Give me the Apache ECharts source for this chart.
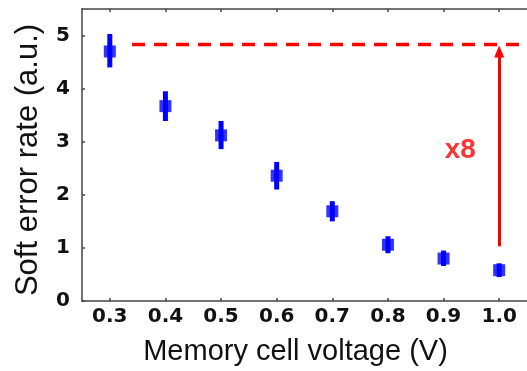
<!DOCTYPE html>
<html>
<head>
<meta charset="utf-8">
<script src="https://cdn.jsdelivr.net/npm/echarts@6/dist/echarts.min.js"></script>
<style>html,body{margin:0;padding:0;background:#fff;}#c{width:527px;height:371px;}</style>
</head>
<body>
<div id="c"></div>
<script>
// Data
const voltages = [0.3, 0.4, 0.5, 0.6, 0.7, 0.8, 0.9, 1.0];
const serMean  = [4.70, 3.67, 3.12, 2.36, 1.69, 1.06, 0.80, 0.58];
const serLow   = [4.40, 3.39, 2.86, 2.10, 1.50, 0.90, 0.66, 0.45];
const serHigh  = [5.03, 3.95, 3.39, 2.62, 1.88, 1.22, 0.95, 0.71];
const xTicks = [0.3, 0.4, 0.5, 0.6, 0.7, 0.8, 0.9, 1.0];
const yTicks = [0, 1, 2, 3, 4, 5];
const refLevel = 4.83;        // dashed reference line level
const refStartX = 0.34;       // where dashed line starts
const arrowX = 1.0;
const arrowFrom = 1.03;
const arrowTo = 4.70;
const ratioText = 'x8';
const ratioPos = [0.93, 2.83];

const chart = echarts.init(document.getElementById('c'));
const axisColor = '#444';
const font = 'Liberation Sans, Arial, sans-serif';
const tickFont = 'DejaVu Sans, sans-serif';

const option = {
  animation: false,
  grid: { left: 82, top: 9, width: 449, height: 294 },
  xAxis: [{
    type: 'value', min: 0.25, max: 1.05, position: 'bottom',
    name: 'Memory cell voltage (V)', nameLocation: 'middle', nameGap: 36,
    nameTextStyle: { fontSize: 29, color: '#111', fontFamily: font, padding: [0, 18, 0, 0] },
    axisLine: { show: true, lineStyle: { color: axisColor, width: 1.5 } },
    axisTick: { show: true, inside: true, length: 3, customValues: xTicks, lineStyle: { color: axisColor, width: 1.5 } },
    axisLabel: { customValues: xTicks, fontSize: 20, fontWeight: 'bold', color: '#111', fontFamily: tickFont, margin: 6,
      formatter: v => v.toFixed(1) },
    splitLine: { show: false }
  }, {
    type: 'value', min: 0.25, max: 1.05, position: 'top',
    axisLine: { show: true, onZero: false, lineStyle: { color: axisColor, width: 1.5 } },
    axisTick: { show: true, inside: true, length: 3, customValues: xTicks, lineStyle: { color: axisColor, width: 1.5 } },
    axisLabel: { show: false },
    splitLine: { show: false }
  }],
  yAxis: [{
    type: 'value', min: 0, max: 5.5,
    name: 'Soft error rate (a.u.)', nameLocation: 'middle', nameGap: 38,
    nameTextStyle: { fontSize: 31, color: '#111', fontFamily: font, padding: [0, 10, 0, 0] },
    axisLine: { show: true, lineStyle: { color: axisColor, width: 1.5 } },
    axisTick: { show: true, inside: true, length: 3, customValues: yTicks, lineStyle: { color: axisColor, width: 1.5 } },
    axisLabel: { customValues: yTicks, fontSize: 20, fontWeight: 'bold', color: '#111', fontFamily: tickFont, margin: 12 },
    splitLine: { show: false }
  }],
  series: [
    {
      type: 'custom',
      xAxisIndex: 0, yAxisIndex: 0,
      data: voltages.map((v, i) => [v, serLow[i], serHigh[i]]),
      renderItem: function (params, api) {
        const lo = api.coord([api.value(0), api.value(1)]);
        const hi = api.coord([api.value(0), api.value(2)]);
        return {
          type: 'rect',
          shape: { x: lo[0] - 2.5, y: hi[1], width: 5, height: lo[1] - hi[1] },
          style: { fill: '#0000ff' }
        };
      },
      z: 3
    },
    {
      type: 'scatter',
      xAxisIndex: 0, yAxisIndex: 0,
      symbol: 'rect', symbolSize: [12, 12],
      itemStyle: { color: '#0000ff' },
      data: voltages.map((v, i) => [v, serMean[i]]),
      z: 4
    },
    {
      type: 'line',
      xAxisIndex: 0, yAxisIndex: 0,
      symbol: 'none',
      lineStyle: { color: '#ff0000', width: 3.5, type: [13, 9] },
      data: [[refStartX, refLevel], [1.05, refLevel]],
      z: 2
    },
    {
      type: 'scatter',
      xAxisIndex: 0, yAxisIndex: 0,
      symbolSize: 0,
      data: [ratioPos],
      label: { show: true, position: 'inside', formatter: ratioText, fontSize: 28, fontWeight: 'bold',
        color: '#ff0000', fontFamily: font },
      markLine: {
        silent: true,
        symbol: ['none', 'triangle'],
        symbolSize: [10, 12],
        label: { show: false },
        lineStyle: { color: '#ff0000', width: 3, type: 'solid' },
        data: [[{ coord: [arrowX, arrowFrom] }, { coord: [arrowX, arrowTo] }]]
      },
      z: 5
    }
  ]
};
chart.setOption(option);
</script>
</body>
</html>
